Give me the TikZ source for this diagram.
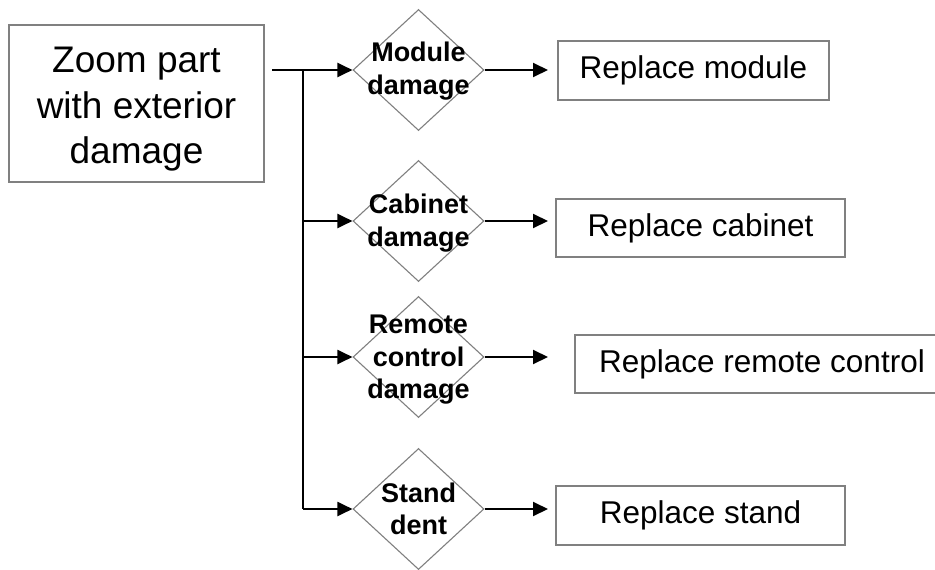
\documentclass[tikz,border=0pt]{standalone}
\usepackage{fontspec}
\setmainfont{Liberation Sans}
\usetikzlibrary{shapes.geometric,arrows.meta}
\definecolor{boxgray}{RGB}{128,128,128}
\begin{document}
\begin{tikzpicture}[x=1pt,y=-1pt,
  rbox/.style={draw=boxgray,line width=1.2pt,rectangle,inner sep=0pt,anchor=center},
  dia/.style={draw=boxgray,line width=1.1pt,diamond,inner sep=0pt,minimum width=131pt,minimum height=121pt},
  dtext/.style={font=\bfseries\fontsize{27}{32.5}\selectfont,align=center,inner sep=0pt},
  rtext/.style={font=\fontsize{31.5}{36}\selectfont},
  conn/.style={line width=2pt,black},
  arr/.style={conn,-{Triangle[length=15pt,width=14pt]}}
]
\useasboundingbox (0,0) rectangle (935,570);
\fill[white] (0,0) rectangle (935,570);

% left box
\node[rbox,minimum width=255pt,minimum height=157pt] (zoom) at (136.5,103.5) {};
\node[align=center,inner sep=0pt,font=\fontsize{37}{45.5}\selectfont] (zoomtext)
      at ([yshift=-6pt]zoom.center) {Zoom part\\with exterior\\damage};

% diamonds
\node[dia] (d1) at (418.5,70) {};
\node[dia] (d2) at (418.5,221) {};
\node[dia] (d3) at (418.5,357) {};
\node[dia] (d4) at (418.5,509) {};
\node[dtext] (t1) at (418.5,71) {Module\\damage};
\node[dtext] (t2) at (418.5,223) {Cabinet\\damage};
\node[dtext] (t3) at (418.5,360) {Remote\\control\\damage};
\node[dtext] (t4) at (418.5,509) {Stand\\dent};

% result boxes
\node[rbox,rtext,minimum width=271pt,minimum height=59pt] (r1) at (693.5,70.5) {Replace module};
\node[rbox,rtext,minimum width=289pt,minimum height=58pt] (r2) at (700.5,228) {Replace cabinet};
\node[rbox,rtext,minimum width=374pt,minimum height=58pt] (r3) at (762,364) {Replace remote control};
\node[rbox,rtext,minimum width=289pt,minimum height=59pt] (r4) at (700.5,515.5) {Replace stand};

% connector coordinates
\coordinate (s0) at (272,70);
\coordinate (j1) at (303,70);
\coordinate (j2) at (303,221);
\coordinate (j3) at (303,357);
\coordinate (j4) at (303,509);
\coordinate (e1) at (548,70);
\coordinate (e2) at (548,221);
\coordinate (e3) at (548,357);
\coordinate (e4) at (548,509);

\draw[arr] (s0) -- (d1.west);
\draw[conn] (j1) -- (j4);
\draw[arr] (j2) -- (d2.west);
\draw[arr] (j3) -- (d3.west);
\draw[arr] (j4) -- (d4.west);
\draw[arr] (d1.east) -- (e1);
\draw[arr] (d2.east) -- (e2);
\draw[arr] (d3.east) -- (e3);
\draw[arr] (d4.east) -- (e4);
\end{tikzpicture}
\end{document}
